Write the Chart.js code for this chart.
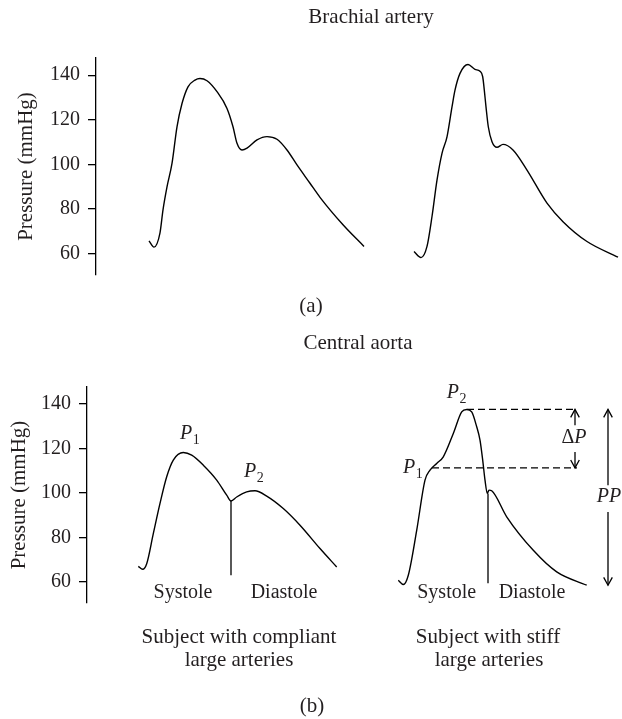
<!DOCTYPE html>
<html><head><meta charset="utf-8">
<script src="https://cdn.jsdelivr.net/npm/chart.js@4.4.1/dist/chart.umd.min.js"></script>
<style>
html,body{margin:0;padding:0;background:#fff;}
#wrap{position:relative;width:622px;height:719px;overflow:hidden;}
.box{position:absolute;left:0;width:622px;}
</style></head><body>
<div id="wrap">
<div class="box" style="top:0;height:320px"><canvas id="c1"></canvas></div>
<div class="box" style="top:320px;height:399px"><canvas id="c2"></canvas></div>
</div>
<script>
// ---- data (time in arbitrary units, pressure in mmHg) ----
const yTicks = [60, 80, 100, 120, 140];

// (a) brachial artery
const brachCompT = [53, 58, 64, 67, 71, 76, 81, 86, 92, 99, 104, 111, 121, 131, 137, 141, 146, 151, 161, 171, 181, 191, 201, 214, 224, 247, 268];
const brachCompP = [65.8, 63, 69.4, 79.7, 90, 100.5, 116.9, 127.3, 134.8, 137.8, 138.5, 137.5, 132.6, 125.1, 116.9, 109.5, 106.5, 107.3, 111, 112.5, 111.3, 106.5, 99.8, 91.6, 85.3, 73, 63.3];
const brachStiffT = [318, 325, 331, 336, 341, 346, 351, 356, 359, 364, 372, 379, 384, 386.7, 388.3, 390, 392.3, 396, 401, 407, 417, 431, 451, 467, 491, 522];
const brachStiffP = [61, 58.3, 63.3, 76.7, 93, 105, 112.4, 125.8, 133.3, 140.8, 144.8, 142.6, 141.8, 139.3, 133.3, 125.8, 116.9, 110.2, 107.7, 109, 106.5, 97.5, 82.7, 74.4, 65.5, 58.5];

// (b) central aorta
const aortaCompT = [51.3, 55.7, 59.7, 66.3, 73, 79.7, 86.3, 96.3, 104.7, 116.3, 129.7, 139.7, 144, 149.7, 159.7, 168, 179.7, 196.3, 213, 233, 249.7];
const aortaCompP = [67, 65.7, 68.2, 81.7, 95.3, 107.3, 114.8, 118.2, 117, 112.5, 105.8, 99, 96.4, 98.2, 100.5, 101, 98.6, 93, 85.5, 75, 66.7];
const aortaStiffT = [311.3, 316.3, 321.3, 329.7, 338, 343, 349.7, 356.3, 366.3, 374.7, 379.7, 384.7, 389.7, 393, 395.7, 398, 400.3, 402, 404.7, 419.7, 446.3, 469.7, 499.7];
const aortaStiffP = [60.7, 58.8, 63, 83.2, 105.8, 110.3, 113.3, 116.3, 126.8, 136.5, 137.6, 136.5, 129.8, 123.8, 114.8, 105.8, 99.8, 101.3, 101, 89.3, 74.2, 64.5, 58.5];

// markers (time, pressure)
const compNotch = [[144, 96.4], [144, 63]];
const stiffNotch = [[401, 99.8], [401, 59.4]];
const p2Level = [[380, 137.6], [490, 137.6]];
const p1Level = [[345, 111.3], [490, 111.3]];
const deltaTop = [[488, 130.5], [488, 137.6]];
const deltaBottom = [[488, 118.5], [488, 111.3]];
const ppTop = [[521, 103.5], [521, 137.6]];
const ppBottom = [[521, 91.5], [521, 58.5]];

const FONT = 'Liberation Serif';
const INK = '#231f20';

function pts(t, p) { return t.map((x, i) => ({ x: x, y: p[i] })); }
function pairs(a) { return a.map(q => ({ x: q[0], y: q[1] })); }

function curve(t, p) {
  return { data: pts(t, p), borderColor: '#000', borderWidth: 1.4, pointRadius: 0,
           cubicInterpolationMode: 'monotone', fill: false };
}
function seg(a, extra) {
  return Object.assign({ data: pairs(a), borderColor: '#000', borderWidth: 1.3, pointRadius: 0,
           tension: 0, fill: false }, extra || {});
}

function yAxis(width, titlePad) {
  return {
    type: 'linear', min: 50.5, max: 147.7,
    afterBuildTicks: s => { s.ticks = yTicks.map(v => ({ value: v })); },
    afterFit: s => { s.width = width; },
    border: { display: true, color: '#000', width: 1.3 },
    grid: { drawOnChartArea: false, drawTicks: true, tickLength: 8, color: '#000', lineWidth: 1.3 },
    ticks: { color: INK, font: { family: FONT, size: 20 }, padding: 8 },
    title: { display: true, text: 'Pressure (mmHg)', color: INK, font: { family: FONT, size: 21 },
             padding: { top: titlePad, bottom: 0 } }
  };
}

const arrowPlugin = {
  id: 'arrowHeads',
  afterDatasetsDraw(chart) {
    const ctx = chart.ctx;
    chart.data.datasets.forEach((ds, i) => {
      if (!ds.arrowHead) return;
      const el = chart.getDatasetMeta(i).data;
      const a = el[el.length - 1], b = el[0];
      const ang = Math.atan2(a.y - b.y, a.x - b.x);
      const L = 9, sp = 0.5;
      ctx.save();
      ctx.strokeStyle = '#000'; ctx.lineWidth = 1.3;
      ctx.beginPath();
      ctx.moveTo(a.x - L * Math.cos(ang - sp), a.y - L * Math.sin(ang - sp));
      ctx.lineTo(a.x, a.y);
      ctx.lineTo(a.x - L * Math.cos(ang + sp), a.y - L * Math.sin(ang + sp));
      ctx.stroke();
      ctx.restore();
    });
  }
};

const textPlugin = {
  id: 'texts',
  afterDraw(chart, args, opts) {
    const ctx = chart.ctx, xs = chart.scales.x, ys = chart.scales.y;
    ctx.save();
    ctx.fillStyle = INK;
    ctx.textBaseline = 'middle';
    ctx.textAlign = 'center';
    ctx.font = '21px "' + FONT + '"';
    (opts.captions || []).forEach(c => { ctx.fillText(c.text, c.x, c.y); });
    ctx.font = '20px "' + FONT + '"';
    (opts.labels || []).forEach(c => {
      ctx.fillText(c.text, xs.getPixelForValue(c.t), ys.getPixelForValue(c.p));
    });
    // italic symbols with subscripts, anchored at left/baseline
    ctx.textAlign = 'left';
    ctx.textBaseline = 'alphabetic';
    (opts.symbols || []).forEach(c => {
      const x = xs.getPixelForValue(c.t), y = ys.getPixelForValue(c.p);
      ctx.font = 'italic 20px "' + FONT + '"';
      ctx.fillText(c.main, x, y);
      const w = ctx.measureText(c.main).width;
      ctx.font = '14px "' + FONT + '"';
      ctx.fillText(c.sub, x + w + 0.5, y + 5);
    });
    // centered mixed labels
    (opts.centered || []).forEach(c => {
      const x = xs.getPixelForValue(c.t), y = ys.getPixelForValue(c.p);
      ctx.textBaseline = 'middle';
      ctx.font = '20px "' + FONT + '"';
      const w1 = c.pre ? ctx.measureText(c.pre).width : 0;
      ctx.font = 'italic 20px "' + FONT + '"';
      const w2 = ctx.measureText(c.ital).width;
      let x0 = x - (w1 + w2) / 2;
      if (c.pre) { ctx.font = '20px "' + FONT + '"'; ctx.fillText(c.pre, x0, y); }
      ctx.font = 'italic 20px "' + FONT + '"';
      ctx.fillText(c.ital, x0 + w1, y);
    });
    ctx.restore();
  }
};

const common = {
  responsive: true, maintainAspectRatio: false, animation: false,
  events: []
};

new Chart(document.getElementById('c1'), {
  type: 'line',
  data: { datasets: [curve(brachCompT, brachCompP), curve(brachStiffT, brachStiffP)] },
  options: Object.assign({}, common, {
    layout: { padding: { left: 0, right: 2, top: 58, bottom: 45 } },
    scales: {
      x: { type: 'linear', min: 0, max: 524, display: false },
      y: yAxis(96, 14)
    },
    plugins: {
      legend: { display: false }, tooltip: { enabled: false },
      texts: {
        captions: [
          { text: 'Brachial artery', x: 371, y: 17 },
          { text: '(a)', x: 311, y: 306 }
        ]
      }
    }
  }),
  plugins: [textPlugin]
});

new Chart(document.getElementById('c2'), {
  type: 'line',
  data: { datasets: [
    curve(aortaCompT, aortaCompP), curve(aortaStiffT, aortaStiffP),
    seg(compNotch), seg(stiffNotch),
    seg(p2Level, { borderDash: [7, 4] }), seg(p1Level, { borderDash: [7, 4] }),
    seg(deltaTop, { arrowHead: true }), seg(deltaBottom, { arrowHead: true }),
    seg(ppTop, { arrowHead: true }), seg(ppBottom, { arrowHead: true })
  ] },
  options: Object.assign({}, common, {
    layout: { padding: { left: 0, right: 2, top: 67, bottom: 116 } },
    scales: {
      x: { type: 'linear', min: 0, max: 533, display: false },
      y: yAxis(87, 7)
    },
    plugins: {
      legend: { display: false }, tooltip: { enabled: false },
      texts: {
        captions: [
          { text: 'Central aorta', x: 358, y: 23 },
          { text: 'Subject with compliant', x: 239, y: 317 },
          { text: 'large arteries', x: 239, y: 340 },
          { text: 'Subject with stiff', x: 488, y: 317 },
          { text: 'large arteries', x: 489, y: 340 },
          { text: '(b)', x: 312, y: 386 }
        ],
        labels: [
          { text: 'Systole', t: 96, p: 54.9 },
          { text: 'Diastole', t: 197, p: 54.9 },
          { text: 'Systole', t: 359.7, p: 54.9 },
          { text: 'Diastole', t: 445, p: 54.9 }
        ],
        symbols: [
          { main: 'P', sub: '1', t: 93, p: 124.5 },
          { main: 'P', sub: '2', t: 157, p: 107.1 },
          { main: 'P', sub: '1', t: 316, p: 108.8 },
          { main: 'P', sub: '2', t: 359.7, p: 142.6 }
        ],
        centered: [
          { pre: '\u0394', ital: 'P', t: 487, p: 124.7 },
          { pre: '', ital: 'PP', t: 522, p: 98.2 }
        ]
      }
    }
  }),
  plugins: [textPlugin, arrowPlugin]
});
</script>
</body></html>
